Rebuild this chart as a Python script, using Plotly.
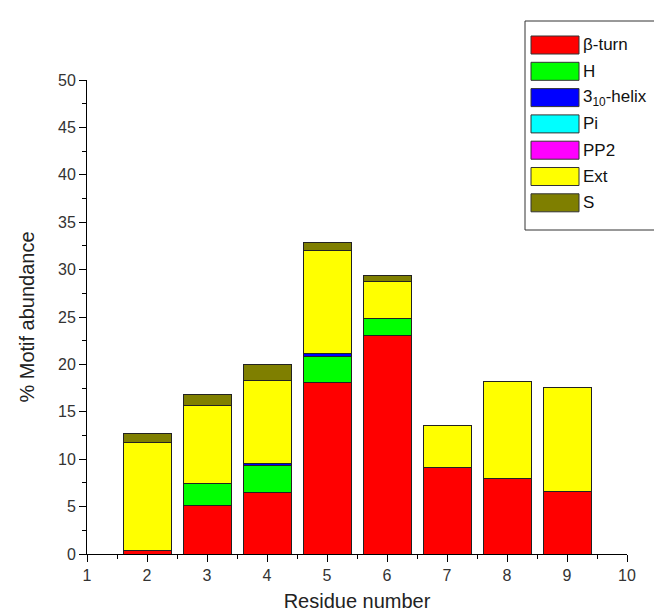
import plotly.graph_objects as go

residues = [2, 3, 4, 5, 6, 7, 8, 9]
beta_turn = [0.35, 5.15, 6.5, 18.1, 23.1, 9.1, 8.0, 6.6]
helix_H = [0, 2.3, 2.8, 2.75, 1.7, 0, 0, 0]
helix_310 = [0, 0, 0.2, 0.25, 0, 0, 0, 0]
pi_helix = [0, 0, 0, 0, 0, 0, 0, 0]
pp2 = [0, 0, 0, 0, 0, 0, 0, 0]
ext = [11.45, 8.2, 8.85, 10.9, 3.95, 4.5, 10.2, 11.0]
bend_S = [0.9, 1.2, 1.65, 0.9, 0.65, 0, 0, 0]

series_names = ["β-turn", "H", "3<sub>10</sub>-helix", "Pi", "PP2", "Ext", "S"]
series_values = [beta_turn, helix_H, helix_310, pi_helix, pp2, ext, bend_S]
series_colors = ["#FF0000", "#00FF00", "#0000FF", "#00FFFF", "#FF00FF", "#FFFF00", "#7F7F00"]

x_ticks = [1, 2, 3, 4, 5, 6, 7, 8, 9, 10]
y_ticks = [0, 5, 10, 15, 20, 25, 30, 35, 40, 45, 50]

FONT = "Liberation Sans, Arial, sans-serif"

fig = go.Figure()
for name, vals, col in zip(series_names, series_values, series_colors):
    fig.add_trace(go.Bar(
        x=residues, y=vals, name=name, width=0.8,
        marker=dict(color=col, line=dict(color="#222222", width=1)),
        showlegend=False,
    ))

# Custom legend (box with large swatches, as in the original)
W, H = 662, 615
ml, mr, mt, mb = 79, 43, 72, 69
pw, ph = W - ml - mr, H - mt - mb

def px_x(px):
    return (px - ml) / pw

def px_y(py):
    return (H - mb - py) / ph

shapes = [dict(type="rect", xref="paper", yref="paper",
               x0=px_x(517), x1=px_x(652), y0=px_y(222), y1=px_y(13),
               line=dict(color="#333333", width=1), fillcolor="white", layer="above")]
annotations = []
for i, (name, col) in enumerate(zip(series_names, series_colors)):
    top = 28 + 26.3 * i
    shapes.append(dict(type="rect", xref="paper", yref="paper",
                       x0=px_x(523), x1=px_x(571), y0=px_y(top + 18), y1=px_y(top),
                       line=dict(color="#333333", width=1), fillcolor=col, layer="above"))
    annotations.append(dict(xref="paper", yref="paper", x=px_x(573), y=px_y(top + 9),
                            text=name, showarrow=False, xanchor="left", yanchor="middle",
                            font=dict(family=FONT, size=17, color="#111111")))

fig.update_layout(
    barmode="stack",
    width=W, height=H,
    margin=dict(l=ml, r=mr, t=mt, b=mb),
    paper_bgcolor="white", plot_bgcolor="white",
    font=dict(family=FONT, size=16, color="#333333"),
    shapes=shapes, annotations=annotations,
)
fig.update_xaxes(
    range=[1, 10], tickvals=x_ticks, ticktext=[str(v) for v in x_ticks],
    showline=True, linecolor="black", linewidth=1, mirror=False,
    ticks="outside", ticklen=7, tickcolor="black", showgrid=False, zeroline=False,
    minor=dict(ticks="outside", ticklen=4, dtick=0.5, tick0=1, tickcolor="black", showgrid=False),
    tickfont=dict(size=16, color="#333333"),
    title=dict(text="Residue number", font=dict(size=20, color="#222222"), standoff=10),
)
fig.update_yaxes(
    range=[0, 50], tickvals=y_ticks, ticktext=[str(v) for v in y_ticks],
    showline=True, linecolor="black", linewidth=1, mirror=False,
    ticks="outside", ticklen=7, tickcolor="black", showgrid=False, zeroline=False,
    minor=dict(ticks="outside", ticklen=4, dtick=2.5, tick0=0, tickcolor="black", showgrid=False),
    tickfont=dict(size=16, color="#333333"),
    title=dict(text="% Motif abundance", font=dict(size=20, color="#222222"), standoff=18),
)

fig.write_html("out.html")
